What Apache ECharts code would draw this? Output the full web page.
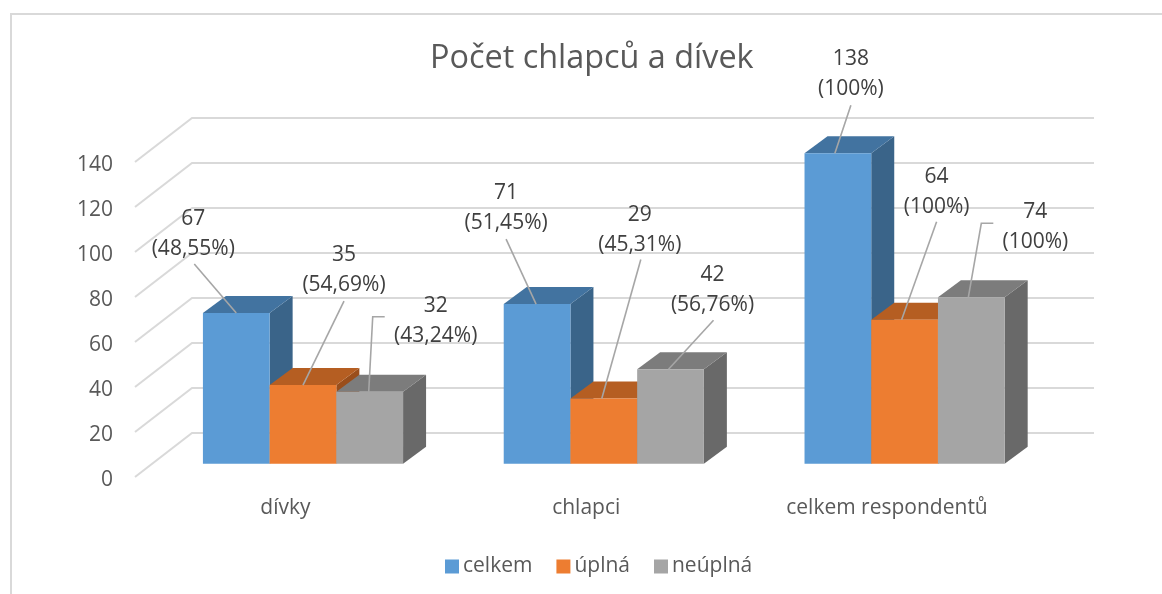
<!DOCTYPE html>
<html>
<head>
<meta charset="utf-8">
<style>html,body{margin:0;padding:0;background:#fff}#c{width:1162px;height:594px}</style>
<script src="https://cdn.jsdelivr.net/npm/echarts@6/dist/echarts.min.js"></script>
</head>
<body>
<div id="c"></div>
<script>
const categories = ['dívky', 'chlapci', 'celkem respondentů'];
const celkem = [67, 71, 138];
const uplna = [35, 29, 64];
const neuplna = [32, 42, 74];
const celkemPct = ['48,55%', '51,45%', '100%'];
const uplnaPct = ['54,69%', '45,31%', '100%'];
const neuplnaPct = ['43,24%', '56,76%', '100%'];
const yTicks = [0, 20, 40, 60, 80, 100, 120, 140];

// Leader-line start shift, bend points and label centres, relative to the bar's top-front centre.
const celkemLayout = [
  {start: 0, line: [[-42, -49]], label: [-43, -79]},
  {start: -1, line: [[-31, -65]], label: [-31, -96]},
  {start: -3, line: [[13, -48]], label: [13, -79]}
];
const uplnaLayout = [
  {start: 0, line: [[41, -84]], label: [41, -115]},
  {start: -2, line: [[37, -139]], label: [36, -169]},
  {start: -3, line: [[32, -98]], label: [32, -128]}
];
const neuplnaLayout = [
  {start: -1, line: [[3, -75], [15, -75]], label: [66, -71]},
  {start: -2, line: [[43, -49]], label: [42, -79]},
  {start: -3, line: [[10, -74], [22, -74]], label: [64, -70]}
];

const SKEW_X = 57, SKEW_Y = -44, WALL_RIGHT = 1094;
const BAR_DX = 23, BAR_DY = -17, GROUP_SHIFT = 17.6, PLANE_Y = -13.2;
const BAR_SHARE = 0.2218;
const GRID_COLOR = '#D9D9D9', LABEL_COLOR = '#404040', AXIS_COLOR = '#595959', LEADER = '#A6A6A6';
const FONT = '"Open Sans"';

function barBox(api, i, v, slot) {
  const band = api.size([1, 0])[0];
  const w = band * BAR_SHARE;
  const base = api.coord([i, 0]), top = api.coord([i, v]);
  const x = base[0] + GROUP_SHIFT + (slot - 1.5) * w;
  return {x: x, w: w, y0: base[1] + PLANE_Y, y1: top[1] + PLANE_Y};
}

function barSeries(name, values, slot, front, roof, side) {
  return {
    name: name, type: 'custom', coordinateSystem: 'cartesian2d', z: 3 + slot,
    itemStyle: {color: front}, silent: true,
    data: values.map((v, i) => [i, v]),
    encode: {x: 0, y: 1},
    renderItem: function (params, api) {
      const b = barBox(api, api.value(0), api.value(1), slot);
      const r = b.x + b.w;
      const poly = (pts, fill) => ({type: 'polygon', shape: {points: pts}, style: {fill: fill}});
      return {type: 'group', children: [
        poly([[r, b.y0], [r + BAR_DX, b.y0 + BAR_DY], [r + BAR_DX, b.y1 + BAR_DY], [r, b.y1]], side),
        poly([[b.x, b.y1], [r, b.y1], [r + BAR_DX, b.y1 + BAR_DY], [b.x + BAR_DX, b.y1 + BAR_DY]], roof),
        poly([[b.x, b.y0], [r, b.y0], [r, b.y1], [b.x, b.y1]], front)
      ]};
    }
  };
}

function labelSeries(values, pct, layout, slot) {
  return {
    type: 'custom', coordinateSystem: 'cartesian2d', z: 10, silent: true,
    data: values.map((v, i) => [i, v]),
    encode: {x: 0, y: 1},
    renderItem: function (params, api) {
      const i = api.value(0), v = api.value(1);
      const b = barBox(api, i, v, slot);
      const ax = b.x + b.w / 2, ay = b.y1;
      const L = layout[i];
      const pts = [[ax + L.start, ay]].concat(L.line.map(p => [ax + p[0], ay + p[1]]));
      return {type: 'group', children: [
        {type: 'polyline', shape: {points: pts}, style: {stroke: LEADER, lineWidth: 1.6, fill: 'none'}},
        {type: 'text', x: ax + L.label[0], y: ay + L.label[1], style: {
          text: v + '\n(' + pct[i] + ')', fill: LABEL_COLOR, font: '21px ' + FONT,
          lineHeight: 30, align: 'center', verticalAlign: 'middle'
        }}
      ]};
    }
  };
}

const wallSeries = {
  type: 'custom', coordinateSystem: 'cartesian2d', z: 1, silent: true, clip: false,
  data: yTicks.map(t => [0, t]),
  encode: {y: 1},
  renderItem: function (params, api) {
    const left = api.coord([0, api.value(1)]);
    const x0 = params.coordSys.x, y = left[1];
    return {type: 'polyline', shape: {points: [[x0, y], [x0 + SKEW_X, y + SKEW_Y], [WALL_RIGHT, y + SKEW_Y]]},
      style: {stroke: GRID_COLOR, lineWidth: 2, fill: 'none'}};
  }
};

const chart = echarts.init(document.getElementById('c'), null, {renderer: 'canvas'});
chart.setOption({
  animation: false,
  backgroundColor: '#fff',
  title: {text: 'Počet chlapců a dívek', left: 430, top: 43, padding: 0,
    textStyle: {fontFamily: FONT, fontSize: 32.4, fontWeight: 'normal', color: AXIS_COLOR}},
  legend: {
    data: ['celkem', 'úplná', 'neúplná'], left: 445, top: 556, padding: 0,
    icon: 'rect', itemWidth: 14, itemHeight: 14, itemGap: 24,
    textStyle: {fontFamily: FONT, fontSize: 21, color: AXIS_COLOR, padding: [0, 0, 0, -1]}
  },
  grid: {left: 135, top: 162, width: 902.4, height: 315},
  xAxis: {type: 'category', data: categories, axisLine: {show: false}, axisTick: {show: false},
    axisLabel: {margin: 21, fontFamily: FONT, fontSize: 21, color: AXIS_COLOR}},
  yAxis: {type: 'value', min: 0, max: 140, interval: 20, axisLine: {show: false}, axisTick: {show: false},
    splitLine: {show: false},
    axisLabel: {margin: 22, formatter: '{a|{value}}',
      rich: {a: {fontFamily: FONT, fontSize: 21, color: AXIS_COLOR, padding: [6, 0, 0, 0]}}}},
  graphic: [
    {type: 'rect', shape: {x: 10, y: 13, width: 2, height: 581}, style: {fill: GRID_COLOR}},
    {type: 'rect', shape: {x: 10, y: 13, width: 1152, height: 2}, style: {fill: GRID_COLOR}}
  ],
  series: [
    wallSeries,
    barSeries('celkem', celkem, 0, '#5B9BD5', '#4273A0', '#3A6489'),
    barSeries('úplná', uplna, 1, '#ED7D31', '#B55E22', '#9A4E1B'),
    barSeries('neúplná', neuplna, 2, '#A5A5A5', '#7C7C7C', '#696969'),
    labelSeries(celkem, celkemPct, celkemLayout, 0),
    labelSeries(uplna, uplnaPct, uplnaLayout, 1),
    labelSeries(neuplna, neuplnaPct, neuplnaLayout, 2)
  ]
});
</script>
</body>
</html>
